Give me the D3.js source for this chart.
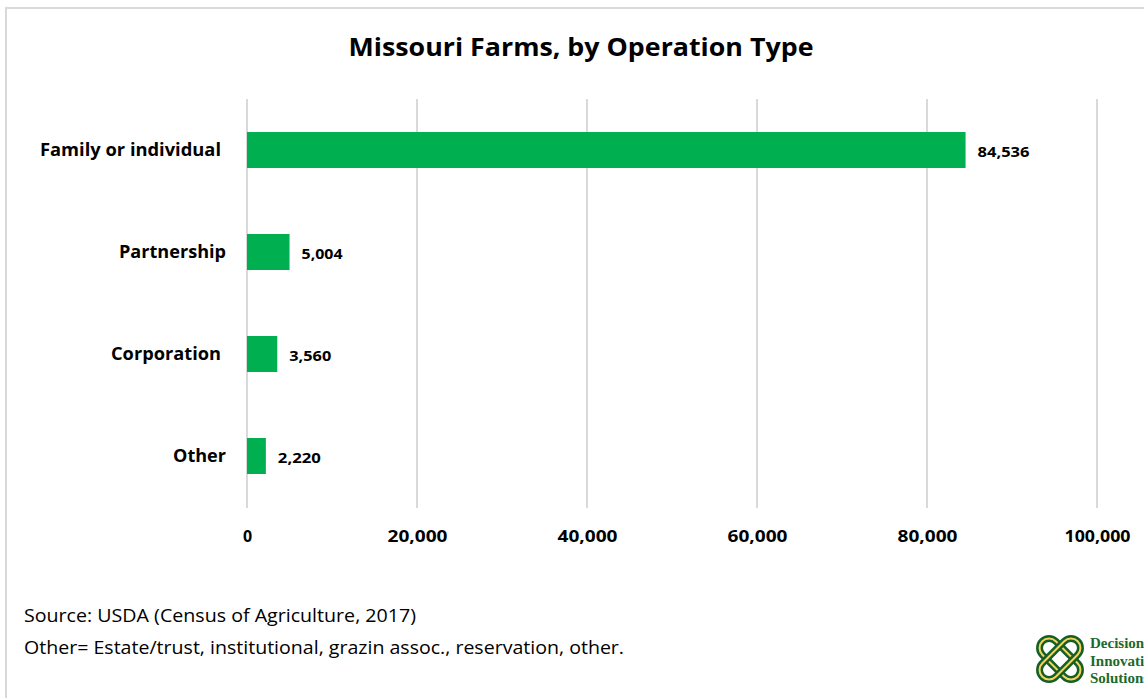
<!DOCTYPE html>
<html><head><meta charset="utf-8">
<script src="https://cdn.jsdelivr.net/npm/d3@7"></script>
<style>html,body{margin:0;padding:0;background:#fff;}svg{display:block;}</style>
</head><body>
<svg id="c" width="1144" height="698"></svg>
<script>
const categories = ["Family or individual", "Partnership", "Corporation", "Other"];
const values = [84536, 5004, 3560, 2220];
const tickValues = [0, 20000, 40000, 60000, 80000, 100000];
const titleText = "Missouri Farms, by Operation Type";
const footnotes = ["Source: USDA (Census of Agriculture, 2017)", "Other= Estate/trust, institutional, grazin assoc., reservation, other."];
const logoLines = ["Decision", "Innovation", "Solutions"];

const FONT = "'Open Sans', 'Noto Sans', sans-serif";
const svg = d3.select("#c");

function fit(sel, w) {
  sel.each(function() {
    const len = this.getComputedTextLength();
    if (Math.abs(len - w) > 1) {
      d3.select(this).attr("textLength", w).attr("lengthAdjust", "spacingAndGlyphs");
    }
  });
}

// frame
svg.append("rect").attr("x", 0).attr("y", 0).attr("width", 1144).attr("height", 698).attr("fill", "#fff");
svg.append("line").attr("x1", 5).attr("x2", 1144).attr("y1", 8).attr("y2", 8).attr("stroke", "#d9d9d9").attr("stroke-width", 2);
svg.append("line").attr("x1", 6).attr("x2", 6).attr("y1", 7).attr("y2", 698).attr("stroke", "#d9d9d9").attr("stroke-width", 2);

// title
svg.append("text").attr("x", 581).attr("y", 56).attr("text-anchor", "middle")
  .attr("font-family", FONT).attr("font-weight", "bold").attr("font-size", 25).attr("fill", "#000")
  .text(titleText).call(fit, 465);

const x = d3.scaleLinear().domain([0, 100000]).range([247, 1097]);
const y = d3.scaleBand().domain(categories).range([99, 507]).paddingInner(0.647).paddingOuter(0.3235);

// gridlines
svg.append("g").selectAll("line").data(tickValues).join("line")
  .attr("x1", d => x(d)).attr("x2", d => x(d)).attr("y1", 99).attr("y2", 508)
  .attr("stroke", "#d9d9d9").attr("stroke-width", 2);

// axis tick labels
const xAxis = d3.axisBottom(x).tickValues(tickValues).tickFormat(d3.format(",")).tickSize(0).tickPadding(0);
const gx = svg.append("g").attr("transform", "translate(0,531)").call(xAxis);
gx.select(".domain").remove();
gx.selectAll("text").attr("font-family", FONT).attr("font-weight", "bold").attr("font-size", 16).attr("fill", "#000")
  .attr("dy", "0.71em")
  .each(function(d) { fit(d3.select(this), d === 0 ? 10 : (d === 100000 ? 66 : 60)); });

// bars
svg.append("g").selectAll("rect").data(values).join("rect")
  .attr("x", x(0)).attr("y", (d, i) => y(categories[i]))
  .attr("width", d => x(d) - x(0)).attr("height", y.bandwidth())
  .attr("fill", "#00b050");

// category labels
const catWidths = [181, 107, 110, 53];
const catEnds = [221, 226, 221, 226];
const yAxis = d3.axisLeft(y).tickSize(0).tickPadding(0);
const gy = svg.append("g").attr("transform", "translate(224,0)").call(yAxis);
gy.select(".domain").remove();
gy.selectAll(".tick text").attr("font-family", FONT).attr("font-weight", "bold").attr("font-size", 17.5).attr("fill", "#000")
  .attr("x", (d, i) => catEnds[i] - 224)
  .each(function(d, i) { fit(d3.select(this), catWidths[i]); });

// data labels
const valWidths = [52, 41, 42, 43];
svg.append("g").selectAll("text").data(values).join("text")
  .attr("x", d => x(d) + 12).attr("y", (d, i) => y(categories[i]) + y.bandwidth() / 2 + 2)
  .attr("dy", "0.35em")
  .attr("font-family", FONT).attr("font-weight", "bold").attr("font-size", 14).attr("fill", "#000")
  .text(d => d3.format(",")(d))
  .each(function(d, i) { fit(d3.select(this), valWidths[i]); });

// footnotes
const fnWidths = [392, 600];
svg.append("g").selectAll("text").data(footnotes).join("text")
  .attr("x", 24).attr("y", (d, i) => 622 + i * 32)
  .attr("font-family", FONT).attr("font-size", 17.5).attr("fill", "#000")
  .text(d => d)
  .each(function(d, i) { fit(d3.select(this), fnWidths[i]); });

// logo
const logo = svg.append("g").attr("transform", "translate(1060,659)");
[45, -45].forEach(a => {
  logo.append("rect").attr("x", -25).attr("y", -9.5).attr("width", 50).attr("height", 19).attr("rx", 9.5)
    .attr("transform", `rotate(${a})`).attr("fill", "none").attr("stroke", "#155f26").attr("stroke-width", 7);
  logo.append("rect").attr("x", -25).attr("y", -9.5).attr("width", 50).attr("height", 19).attr("rx", 9.5)
    .attr("transform", `rotate(${a})`).attr("fill", "none").attr("stroke", "#f2d45c").attr("stroke-width", 2);
});
svg.append("g").selectAll("text").data(logoLines).join("text")
  .attr("x", 1090).attr("y", (d, i) => 648 + i * 17.5)
  .attr("font-family", "'Liberation Serif', 'DejaVu Serif', serif").attr("font-weight", "bold")
  .attr("font-size", 15).attr("fill", "#1b6a2c").text(d => d);
</script>
</body></html>
